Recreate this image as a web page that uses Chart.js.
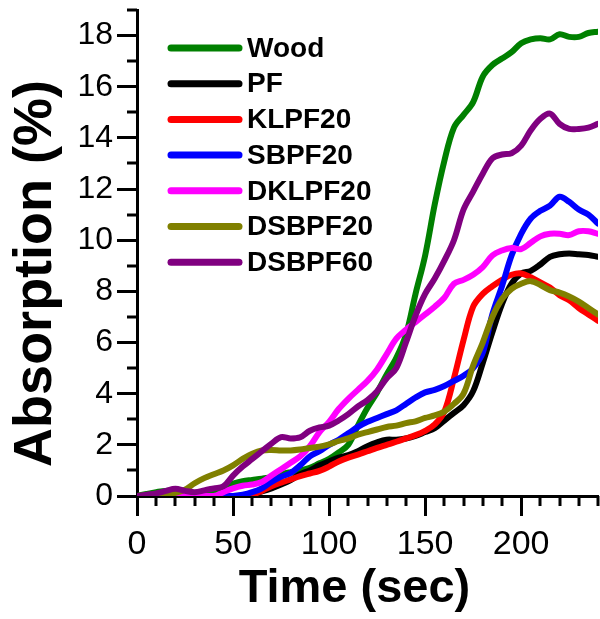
<!DOCTYPE html>
<html>
<head>
<meta charset="utf-8">
<script src="https://cdn.jsdelivr.net/npm/chart.js@4.4.1/dist/chart.umd.min.js"></script>
<style>
  html, body { margin: 0; padding: 0; background: #fff; }
  #wrap { width: 600px; height: 619px; }
</style>
</head>
<body>
<div id="wrap"><canvas id="c" width="600" height="619"></canvas></div>
<script>
const times = [0,5,10,15,20,25,30,35,40,45,50,55,60,65,70,75,80,85,90,95,100,105,110,115,120,125,130,135,140,145,150,155,160,165,170,175,180,185,190,195,200,205,210,215,220,225,230,235,240];

const seriesNames = ['Wood','PF','KLPF20','SBPF20','DKLPF20','DSBPF20','DSBPF60'];
const seriesColors = ['#008000','#000000','#ff0000','#0000ff','#ff00ff','#808000','#800080'];

const wood    = [0,0.08,0.15,0.2,0.18,0.12,0.12,0.12,0.2,0.35,0.48,0.58,0.63,0.68,0.74,0.85,0.93,1.0,1.1,1.28,1.45,1.7,2.0,2.75,3.45,4.05,4.75,5.4,6.3,7.9,9.4,11.4,13.1,14.4,14.9,15.4,16.4,16.85,17.1,17.35,17.7,17.85,17.9,17.85,18.05,17.95,17.95,18.1,18.15];
const pf      = [0,0,0,0,0,0,0,0,0,0,0,0.02,0.08,0.18,0.3,0.45,0.62,0.85,1.0,1.2,1.35,1.5,1.6,1.75,1.95,2.1,2.2,2.2,2.25,2.35,2.5,2.65,2.95,3.25,3.55,4.1,5.2,6.4,7.5,8.3,8.7,8.8,9.05,9.35,9.45,9.48,9.45,9.42,9.35];
const klpf20  = [0,0,0,0,0,0,0,0,0,0,0,0,0.05,0.2,0.38,0.52,0.65,0.78,0.88,0.98,1.15,1.35,1.5,1.62,1.75,1.88,2.0,2.12,2.25,2.38,2.55,2.8,3.3,4.6,6.1,7.4,7.9,8.2,8.45,8.65,8.7,8.55,8.35,8.15,7.85,7.65,7.35,7.1,6.85];
const sbpf20  = [0,0,0,0,0,0,0,0,0,0,0,0.05,0.15,0.3,0.55,0.75,0.9,1.2,1.55,1.75,2.0,2.2,2.45,2.7,2.9,3.05,3.2,3.35,3.6,3.85,4.05,4.15,4.3,4.5,4.7,5.0,5.6,7.1,8.2,9.4,10.25,10.85,11.15,11.35,11.7,11.5,11.2,11.0,10.65];
const dklpf20 = [0,0,0,0,0,0,0,0,0,0.15,0.3,0.4,0.45,0.55,0.8,1.05,1.3,1.55,1.95,2.5,2.9,3.4,3.8,4.15,4.5,4.95,5.55,6.15,6.5,6.8,7.1,7.4,7.75,8.3,8.45,8.65,8.95,9.4,9.6,9.7,9.65,9.9,10.15,10.25,10.25,10.2,10.35,10.35,10.25];
const dsbpf20 = [0,0.02,0.05,0.08,0.12,0.25,0.5,0.7,0.85,1.0,1.2,1.45,1.65,1.78,1.8,1.78,1.78,1.82,1.88,1.93,2.02,2.15,2.25,2.4,2.5,2.6,2.7,2.75,2.85,2.92,3.05,3.15,3.3,3.6,4.0,5.1,6.0,7.0,7.7,8.1,8.3,8.4,8.25,8.05,7.95,7.8,7.6,7.35,7.1];
const dsbpf60 = [0,0.05,0.1,0.2,0.28,0.2,0.15,0.22,0.3,0.38,0.8,1.15,1.45,1.75,2.05,2.3,2.25,2.3,2.55,2.68,2.75,2.95,3.2,3.5,3.75,4.1,4.6,5.0,6.0,7.05,7.9,8.5,9.2,10.0,11.2,11.9,12.6,13.2,13.35,13.4,13.7,14.3,14.75,14.95,14.55,14.35,14.35,14.4,14.55];

const xTickLabels = [0,50,100,150,200];
const yTickLabels = [0,2,4,6,8,10,12,14,16,18];

const allSeries = [wood, pf, klpf20, sbpf20, dklpf20, dsbpf20, dsbpf60];

const FONT = "'Liberation Sans', Arial, Helvetica, sans-serif";

const datasets = allSeries.map((vals, i) => ({
  label: seriesNames[i],
  data: times.map((t, k) => ({ x: t, y: vals[k] })),
  borderColor: seriesColors[i],
  backgroundColor: seriesColors[i],
  borderWidth: 6,
  pointRadius: 0,
  tension: 0.35,
  borderCapStyle: 'round',
  borderJoinStyle: 'round',
  fill: false,
  order: -i
}));

const minorTicks = {
  id: 'minorTicks',
  afterDraw(chart) {
    const ctx = chart.ctx;
    const xs = chart.scales.x, ys = chart.scales.y;
    ctx.save();
    ctx.strokeStyle = '#000';
    ctx.lineWidth = 3;
    ctx.lineCap = 'butt';
    for (let v = 10; v <= 240; v += 10) {
      if (v % 50 === 0) continue;
      const px = Math.round(xs.getPixelForValue(v));
      ctx.beginPath();
      ctx.moveTo(px, xs.top);
      ctx.lineTo(px, xs.top + 10);
      ctx.stroke();
    }
    for (let v = 1; v <= 19; v += 2) {
      const py = Math.round(ys.getPixelForValue(v));
      ctx.beginPath();
      ctx.moveTo(ys.right, py);
      ctx.lineTo(ys.right - 10, py);
      ctx.stroke();
    }
    ctx.restore();
  }
};

const insideLegend = {
  id: 'insideLegend',
  afterDraw(chart) {
    const ctx = chart.ctx;
    const area = chart.chartArea;
    ctx.save();
    ctx.font = "bold 28px " + FONT;
    ctx.textBaseline = 'middle';
    ctx.textAlign = 'left';
    chart.data.datasets.forEach((ds, i) => {
      const y = area.top + 38 + i * 35.7;
      const x0 = area.left + 34;
      ctx.strokeStyle = ds.borderColor;
      ctx.lineWidth = 7;
      ctx.lineCap = 'round';
      ctx.beginPath();
      ctx.moveTo(x0, y);
      ctx.lineTo(x0 + 68, y);
      ctx.stroke();
      ctx.fillStyle = '#000';
      ctx.fillText(ds.label, x0 + 76, y + 1);
    });
    ctx.restore();
  }
};

new Chart(document.getElementById('c'), {
  type: 'line',
  data: { datasets },
  options: {
    responsive: false,
    animation: false,
    devicePixelRatio: 1,
    layout: { padding: { left: 0, right: 2, top: 10, bottom: 0 } },
    plugins: { legend: { display: false }, tooltip: { enabled: false } },
    scales: {
      x: {
        type: 'linear',
        min: 0, max: 240,
        afterBuildTicks: (s) => { s.ticks = xTickLabels.map(v => ({ value: v })); },
        afterFit: (s) => { s.height = 123; s.paddingLeft = 0; s.paddingRight = 0; },
        ticks: { color: '#000', font: { family: FONT, size: 34 }, padding: 8, maxRotation: 0 },
        grid: { drawOnChartArea: false, drawTicks: true, tickLength: 20, tickWidth: 3, tickColor: '#000' },
        border: { display: true, color: '#000', width: 3 },
        title: { display: true, text: 'Time (sec)\u00a0\u00a0', color: '#000', font: { family: FONT, size: 47, weight: 'bold', lineHeight: 1.0 }, padding: { top: 0, bottom: 6 } }
      },
      y: {
        type: 'linear',
        min: 0, max: 19,
        afterBuildTicks: (s) => { s.ticks = yTickLabels.map(v => ({ value: v })); },
        afterFit: (s) => { s.width = 137; s.paddingTop = 0; s.paddingBottom = 0; },
        ticks: { color: '#000', font: { family: FONT, size: 32 }, padding: 4 },
        grid: { drawOnChartArea: false, drawTicks: true, tickLength: 20, tickWidth: 3, tickColor: '#000' },
        border: { display: true, color: '#000', width: 3 },
        title: { display: true, text: 'Absorption (%)\u00a0\u00a0\u2009', color: '#000', font: { family: FONT, size: 54, weight: 'bold', lineHeight: 1.0 }, padding: { top: 9, bottom: 0 } }
      }
    }
  },
  plugins: [minorTicks, insideLegend]
});
</script>
</body>
</html>
